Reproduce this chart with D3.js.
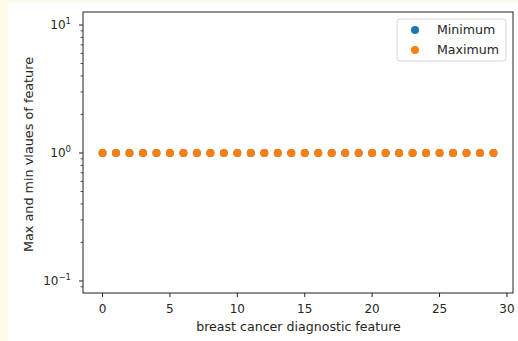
<!DOCTYPE html>
<html>
<head>
<meta charset="utf-8">
<script src="https://cdn.jsdelivr.net/npm/d3@7"></script>
<style>
  html, body { margin: 0; padding: 0; background: #fffbeb; }
  svg { display: block; }
  text { font-family: "DejaVu Sans", sans-serif; fill: #262626; }
</style>
</head>
<body>
<svg width="518" height="341"></svg>
<script>
// feature index 0..29, min and max of each (normalized) feature
const features = [0,1,2,3,4,5,6,7,8,9,10,11,12,13,14,15,16,17,18,19,20,21,22,23,24,25,26,27,28,29];
const minValues = [1,1,1,1,1,1,1,1,1,1,1,1,1,1,1,1,1,1,1,1,1,1,1,1,1,1,1,1,1,1];
const maxValues = [1,1,1,1,1,1,1,1,1,1,1,1,1,1,1,1,1,1,1,1,1,1,1,1,1,1,1,1,1,1];
const xTicks = [0, 5, 10, 15, 20, 25, 30];
const yTicks = [0.1, 1, 10];
const yTickExp = ["\u22121", "0", "1"];
const seriesNames = ["Minimum", "Maximum"];
const seriesColors = ["#1f77b4", "#ff7f0e"];

const svg = d3.select("svg");

// white figure area
svg.append("rect")
    .attr("x", 8).attr("y", 3)
    .attr("width", 510).attr("height", 338)
    .style("fill", "#ffffff");

const plotL = 83, plotR = 513, plotT = 12, plotB = 293;

const x = d3.scaleLinear().domain([-1.45, 30.45]).range([plotL, plotR]);
const y = d3.scaleLog().domain([Math.pow(10, -1.094), Math.pow(10, 1.1016)]).range([plotB, plotT]);

// points: minimum first, maximum on top
[minValues, maxValues].forEach((vals, s) => {
  svg.append("g")
    .selectAll("circle")
    .data(features)
    .enter()
    .append("circle")
      .attr("cx", d => x(d))
      .attr("cy", (d, i) => y(vals[i]))
      .attr("r", 4)
      .style("fill", seriesColors[s]);
});

// x axis
const xAxis = svg.append("g");
xAxis.selectAll("line")
    .data(xTicks)
    .enter()
    .append("line")
      .attr("x1", d => x(d)).attr("x2", d => x(d))
      .attr("y1", plotB).attr("y2", plotB + 4)
      .style("stroke", "#222").style("stroke-width", 1);
xAxis.selectAll("text")
    .data(xTicks)
    .enter()
    .append("text")
      .attr("x", d => x(d))
      .attr("y", plotB + 20)
      .attr("text-anchor", "middle")
      .style("font-size", "12px")
      .text(d => d);

// y axis major ticks
const yAxis = svg.append("g");
yAxis.selectAll("line.major")
    .data(yTicks)
    .enter()
    .append("line")
      .attr("class", "major")
      .attr("x1", plotL - 4).attr("x2", plotL)
      .attr("y1", d => y(d)).attr("y2", d => y(d))
      .style("stroke", "#222").style("stroke-width", 1);

// minor ticks inside the domain
const yd = y.domain();
const minor = [];
[0.01, 0.1, 1, 10].forEach(base => {
  for (let k = 2; k <= 9; k++) {
    const v = base * k;
    if (v >= yd[0] && v <= yd[1]) minor.push(v);
  }
});
yAxis.selectAll("line.minor")
    .data(minor)
    .enter()
    .append("line")
      .attr("class", "minor")
      .attr("x1", plotL - 2.4).attr("x2", plotL)
      .attr("y1", d => y(d)).attr("y2", d => y(d))
      .style("stroke", "#222").style("stroke-width", 0.8);

const yLab = yAxis.selectAll("text")
    .data(yTicks)
    .enter()
    .append("text")
      .attr("x", plotL - 12)
      .attr("y", d => y(d) + 4)
      .attr("text-anchor", "end")
      .style("font-size", "12px");
yLab.append("tspan").text("10");
yLab.append("tspan")
    .attr("dy", -5)
    .style("font-size", "8.5px")
    .text((d, i) => yTickExp[i]);

// frame
svg.append("rect")
    .attr("x", plotL).attr("y", plotT)
    .attr("width", plotR - plotL).attr("height", plotB - plotT)
    .style("fill", "none")
    .style("stroke", "#222")
    .style("stroke-width", 1);

// axis titles
svg.append("text")
    .attr("x", (plotL + plotR) / 2 + 0.5)
    .attr("y", 331)
    .attr("text-anchor", "middle")
    .style("font-size", "12.6px")
    .text("breast cancer diagnostic feature");

svg.append("text")
    .attr("transform", `translate(33, ${(plotT + plotB) / 2 + 2})rotate(-90)`)
    .attr("text-anchor", "middle")
    .style("font-size", "12.8px")
    .text("Max and min vlaues of feature");

// legend
const legend = svg.append("g").attr("transform", "translate(397, 19)");
legend.append("rect")
    .attr("width", 109).attr("height", 42)
    .attr("rx", 3)
    .style("fill", "#ffffff").style("fill-opacity", 0.8)
    .style("stroke", "#d6d6d6").style("stroke-width", 1);
const items = legend.selectAll("g.item")
    .data(seriesNames)
    .enter()
    .append("g")
      .attr("class", "item")
      .attr("transform", (d, i) => `translate(0, ${11 + i * 20})`);
items.append("circle")
    .attr("cx", 18).attr("cy", 0).attr("r", 4)
    .style("fill", (d, i) => seriesColors[i]);
items.append("text")
    .attr("x", 40).attr("y", 4)
    .style("font-size", "12.6px")
    .text(d => d);
</script>
</body>
</html>
